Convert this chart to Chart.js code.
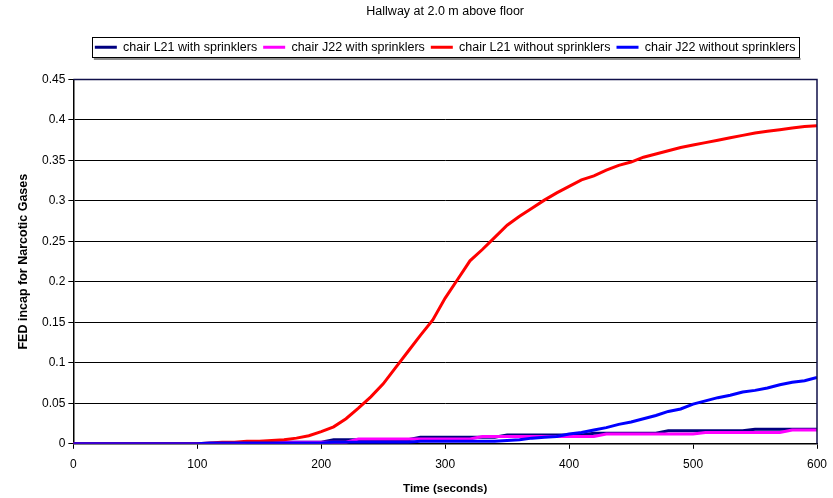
<!DOCTYPE html>
<html>
<head>
<meta charset="utf-8">
<title>Hallway at 2.0 m above floor</title>
<script src="https://cdn.jsdelivr.net/npm/chart.js@4"></script>
<style>
  html, body { margin: 0; padding: 0; background: #fff; }
  #wrap { width: 833px; height: 498px; position: relative; }
</style>
</head>
<body>
<div id="wrap"><canvas id="fedChart"></canvas></div>
<script>
// Time axis (seconds), one sample every 10 s
const times = [];
for (let t = 0; t <= 600; t += 10) times.push(t);

const seriesNames = [
  'chair L21 with sprinklers',
  'chair J22 with sprinklers',
  'chair L21 without sprinklers',
  'chair J22 without sprinklers'
];

const l21With = [
  0, 0, 0, 0, 0, 0, 0, 0, 0, 0, 0, 0, 0,
  0.001, 0.001, 0.001, 0.001,
  0.002, 0.002, 0.002, 0.002,
  0.005, 0.005, 0.005, 0.005, 0.005, 0.005, 0.005,
  0.008, 0.008, 0.008, 0.008, 0.008, 0.008, 0.008,
  0.011, 0.011, 0.011, 0.011, 0.011, 0.011, 0.011,
  0.013, 0.013, 0.013, 0.013, 0.013, 0.013,
  0.016, 0.016, 0.016, 0.016, 0.016, 0.016, 0.016,
  0.018, 0.018, 0.018, 0.018, 0.018, 0.018
];

const j22With = [
  0, 0, 0, 0, 0, 0, 0, 0, 0, 0, 0, 0, 0, 0,
  0.002, 0.002, 0.002, 0.002, 0.002, 0.002, 0.002, 0.002, 0.002,
  0.006, 0.006, 0.006, 0.006, 0.006, 0.006, 0.006, 0.006, 0.006, 0.006,
  0.009, 0.009, 0.009, 0.009, 0.009, 0.009, 0.009, 0.009, 0.009, 0.009,
  0.012, 0.012, 0.012, 0.012, 0.012, 0.012, 0.012, 0.012,
  0.014, 0.014, 0.014, 0.014, 0.014, 0.014, 0.014,
  0.017, 0.017, 0.017
];

const l21Without = [
  0, 0, 0, 0, 0, 0, 0, 0, 0, 0, 0,
  0.001, 0.002, 0.002, 0.003, 0.003, 0.004, 0.005, 0.007, 0.010, 0.015,
  0.021, 0.031, 0.044, 0.058, 0.074, 0.094, 0.114, 0.134, 0.153, 0.180,
  0.203, 0.226, 0.240, 0.255, 0.270, 0.281, 0.291, 0.301, 0.310, 0.318,
  0.326, 0.331, 0.338, 0.344, 0.348, 0.354, 0.358, 0.362, 0.366, 0.369,
  0.372, 0.375, 0.378, 0.381, 0.384, 0.386, 0.388, 0.390, 0.392, 0.393
];

const j22Without = [
  0, 0, 0, 0, 0, 0, 0, 0, 0, 0, 0,
  0.001, 0.001, 0.001, 0.001, 0.001, 0.001, 0.001, 0.001, 0.001, 0.001,
  0.002, 0.002, 0.002, 0.002, 0.002, 0.002, 0.002,
  0.003, 0.003, 0.003, 0.003, 0.003, 0.003, 0.003,
  0.004, 0.005, 0.007, 0.008, 0.009, 0.012, 0.014, 0.017, 0.020, 0.024,
  0.027, 0.031, 0.035, 0.040, 0.043, 0.049, 0.053, 0.057, 0.060, 0.064,
  0.066, 0.069, 0.073, 0.076, 0.078, 0.082
];

const seriesValues = [l21With, j22With, l21Without, j22Without];
const seriesColors = ['#000080', '#ff00ff', '#ff0000', '#0000ff'];
// lower order is painted last, so the blue line sits on top
const seriesOrder = [4, 3, 2, 1];

const FONT = 'Liberation Sans, Arial, sans-serif';

function toPoints(values) {
  return values.map((v, i) => ({ x: times[i], y: v }));
}

// Extra room under the legend before the plot starts
const legendGap = {
  id: 'legendGap',
  beforeInit(chart) {
    const fit = chart.legend.fit;
    chart.legend.fit = function () {
      fit.call(this);
      this.height += 16;
    };
  }
};

// Frame round the plot area plus the boxed legend with its shadow
const framePlugin = {
  id: 'frame',
  afterDraw(chart) {
    const ctx = chart.ctx;
    const a = chart.chartArea;
    ctx.save();
    ctx.strokeStyle = '#10104a';
    ctx.lineWidth = 1.5;
    ctx.beginPath();
    ctx.moveTo(a.left, a.top);
    ctx.lineTo(a.right, a.top);
    ctx.lineTo(a.right, a.bottom);
    ctx.stroke();

    const boxes = chart.legend.legendHitBoxes;
    if (boxes && boxes.length) {
      const left = Math.min(...boxes.map(b => b.left)) - 3;
      const right = Math.max(...boxes.map(b => b.left + b.width)) + 3;
      const cy = boxes[0].top + boxes[0].height / 2;
      const top = Math.round(cy - 10);
      const bottom = Math.round(cy + 10);
      ctx.fillStyle = '#8c8c8c';
      ctx.fillRect(left + 2, bottom + 1, right - left, 2);
      ctx.strokeStyle = '#000';
      ctx.lineWidth = 1;
      ctx.strokeRect(Math.round(left) + 0.5, top + 0.5,
                     Math.round(right - left), bottom - top);
    }
    ctx.restore();
  }
};

const ctx = document.getElementById('fedChart').getContext('2d');

new Chart(ctx, {
  type: 'line',
  data: {
    datasets: seriesNames.map((name, i) => ({
      label: name,
      data: toPoints(seriesValues[i]),
      borderColor: seriesColors[i],
      backgroundColor: seriesColors[i],
      borderWidth: 3,
      pointRadius: 0,
      tension: 0,
      fill: false,
      order: seriesOrder[i]
    }))
  },
  options: {
    responsive: true,
    maintainAspectRatio: false,
    animation: false,
    layout: {
      padding: { top: 4, right: 16, bottom: 2, left: 16 }
    },
    scales: {
      x: {
        type: 'linear',
        min: 0,
        max: 600,
        // the "600" label may hang past the plot edge
        afterFit: (scale) => { scale.paddingRight = 0; },
        ticks: {
          stepSize: 100,
          color: '#000',
          font: { family: FONT, size: 12 },
          padding: 9
        },
        grid: {
          drawOnChartArea: false,
          drawTicks: true,
          tickLength: 5,
          color: '#000'
        },
        border: { color: '#000', width: 1.5 },
        title: {
          display: true,
          text: 'Time (seconds)',
          color: '#000',
          font: { family: FONT, size: 11.5, weight: 'bold' },
          padding: { top: 1, bottom: 0 }
        }
      },
      y: {
        min: 0,
        max: 0.45,
        ticks: {
          stepSize: 0.05,
          color: '#000',
          font: { family: FONT, size: 12 },
          padding: 3,
          callback: (value) => String(Number(value.toFixed(2)))
        },
        grid: {
          color: '#000',
          lineWidth: 1,
          tickLength: 5
        },
        border: { color: '#000', width: 1.5 },
        title: {
          display: true,
          text: 'FED incap for Narcotic Gases',
          color: '#000',
          font: { family: FONT, size: 12.5, weight: 'bold' },
          padding: { top: 0, bottom: 8 }
        }
      }
    },
    plugins: {
      title: {
        display: true,
        fullSize: false,
        text: 'Hallway at 2.0 m above floor',
        color: '#000',
        font: { family: FONT, size: 12.5, weight: 'normal' },
        padding: { top: 0, bottom: 16 }
      },
      legend: {
        position: 'top',
        fullSize: false,
        labels: {
          color: '#000',
          font: { family: FONT, size: 12.5 },
          usePointStyle: true,
          pointStyleWidth: 22,
          pointStyle: 'line',
          boxHeight: 6,
          padding: 6,
          sort: (a, b) => a.datasetIndex - b.datasetIndex
        }
      },
      tooltip: { enabled: false }
    }
  },
  plugins: [legendGap, framePlugin]
});
</script>
</body>
</html>
